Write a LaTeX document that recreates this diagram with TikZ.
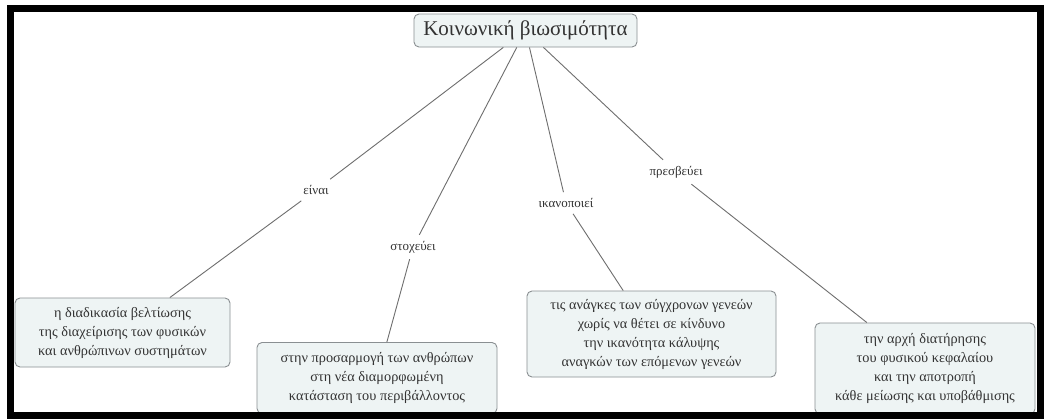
\documentclass[tikz,border=0pt]{standalone}
\usepackage{fontspec}
\setmainfont{Liberation Serif}
\begin{document}
\begin{tikzpicture}[x=1pt,y=-1pt,
  concept/.style={draw=boxline, fill=boxfill, rounded corners=5pt, line width=0.9pt,
    align=center, text=txt, inner sep=2pt, font=\fontsize{14.3}{19}\selectfont},
  linkword/.style={text=txt, inner sep=6pt, font=\fontsize{13}{15}\selectfont},
  link/.style={draw=linkc, line width=0.9pt}]
\definecolor{boxline}{HTML}{8A8F92}
\definecolor{boxfill}{HTML}{EEF4F4}
\definecolor{txt}{HTML}{333333}
\definecolor{linkc}{HTML}{6E6E6E}
\useasboundingbox (0,0) rectangle (1044,418);
\fill[white] (0,0) rectangle (1044,418);

% main concept
\node[concept, minimum width=223pt, minimum height=33pt, font=\fontsize{21}{24}\selectfont]
  (title) at (525.5,30.5) {Κοινωνική βιωσιμότητα};

% linking words
\node[linkword] (w1) at (316,190) {είναι};
\node[linkword] (w2) at (413,247) {στοχεύει};
\node[linkword] (w3) at (566,203) {ικανοποιεί};
\node[linkword] (w4) at (676,172) {πρεσβεύει};

% concepts
\node[concept, minimum width=215pt, minimum height=69pt] (c1) at (122.5,332.5)
  {η διαδικασία βελτίωσης\\της διαχείρισης των φυσικών\\και ανθρώπινων συστημάτων};
\node[concept, minimum width=240pt, minimum height=71pt] (c2) at (377,378)
  {στην προσαρμογή των ανθρώπων\\στη νέα διαμορφωμένη\\κατάσταση του περιβάλλοντος};
\node[concept, minimum width=249pt, minimum height=86pt] (c3) at (651.5,334)
  {τις ανάγκες των σύγχρονων γενεών\\χωρίς να θέτει σε κίνδυνο\\την ικανότητα κάλυψης\\αναγκών των επόμενων γενεών};
\node[concept, minimum width=220pt, minimum height=91pt] (c4) at (925,368.5)
  {την αρχή διατήρησης\\του φυσικού κεφαλαίου\\και την αποτροπή\\κάθε μείωσης και υποβάθμισης};

% connectors
\foreach \w/\c in {w1/c1, w2/c2, w3/c3, w4/c4} {
  \draw[link] (title) -- (\w);
  \draw[link] (\w) -- (\c);
}

% frame
\draw[black, line width=7pt] (10.5,8.5) rectangle (1040.5,415.5);
\end{tikzpicture}
\end{document}
